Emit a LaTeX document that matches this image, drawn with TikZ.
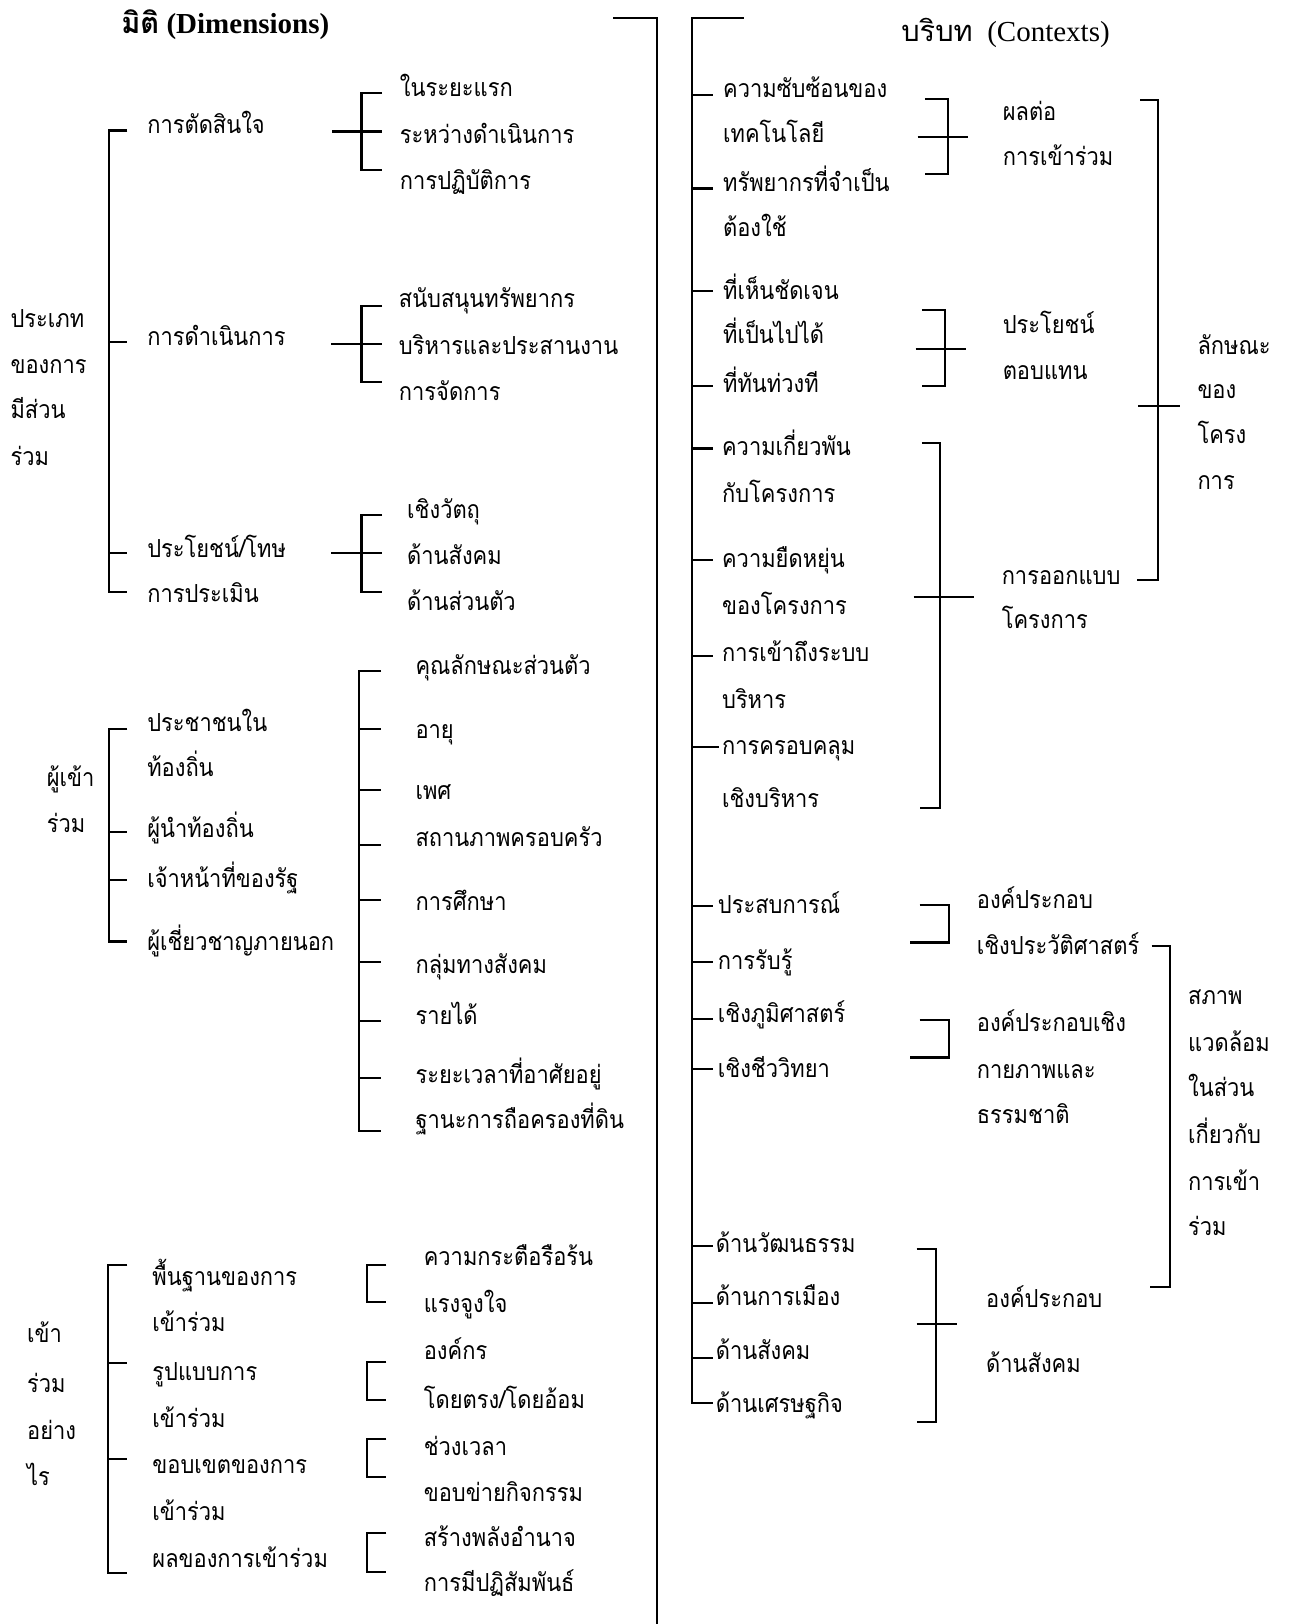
\documentclass[tikz,border=0pt]{standalone}
\usepackage{fontspec}
\setmainfont{Liberation Serif}
\newfontfamily\thaifont[Script=Thai,FakeStretch=0.88]{Loma}
\newfontfamily\thaititle[Script=Thai]{Loma}
\newcommand\mybrL[4]{\draw[ln] (#2,#3) -- (#1,#3) -- (#1,#4) -- (#2,#4);}
\newcommand\mybrR[5]{\draw[ln] (#2,#4) -- (#1,#4) -- (#1,#5) -- (#3,#5);}
\newcommand\myhl[3]{\draw[ln] (#1,#3) -- (#2,#3);}
\tikzset{
  lab/.style={font=\thaifont\fontsize{24}{28}\selectfont, inner sep=0pt, anchor=west, text height=12pt, text depth=0pt},
  ttl/.style={inner sep=0pt, anchor=west, font=\fontsize{28}{32}\selectfont, text height=14pt, text depth=0pt},
  ln/.style={line width=2pt}
}
\begin{document}
\begin{tikzpicture}[x=1pt,y=-1pt]
\useasboundingbox[fill=white] (0,0) rectangle (1245,1568);
% titles
\node[ttl] (tL) at (117,25) {{\thaititle\bfseries มิติ} \textbf{(Dimensions)}};
\node[ttl] (tR) at (870,33) {{\thaititle บริบท}\ \ (Contexts)};
% central lines
\draw[ln] (592,17) -- (634,17) -- (634,1568);
\draw[ln] (718,17) -- (668,17) -- (668,1355) -- (688,1355);

% ===== group 1 =====
\node[lab] (a1) at (10,310) {ประเภท};
\node[lab] (a2) at (10,355) {ของการ};
\node[lab] (a3) at (10,398) {มีส่วน};
\node[lab] (a4) at (10,443) {ร่วม};
\node[lab] (b1) at (142,123) {การตัดสินใจ};
\node[lab] (b2) at (142,328) {การดำเนินการ};
\node[lab] (b3) at (142,532) {ประโยชน์/โทษ};
\node[lab] (b4) at (142,576) {การประเมิน};
\mybrL{105}{123}{126}{572}
\myhl{105}{123}{330}
\myhl{105}{123}{534}
\node[lab] (c1) at (386,87) {ในระยะแรก};
\node[lab] (c2) at (386,133) {ระหว่างดำเนินการ};
\node[lab] (c3) at (386,177) {การปฏิบัติการ};
\mybrL{349}{369}{90}{164}
\myhl{321}{369}{127}
\node[lab] (c4) at (385,291) {สนับสนุนทรัพยากร};
\node[lab] (c5) at (385,336) {บริหารและประสานงาน};
\node[lab] (c6) at (385,381) {การจัดการ};
\mybrL{349}{369}{295}{369}
\myhl{320}{369}{332}
\node[lab] (c7) at (393,495) {เชิงวัตถุ};
\node[lab] (c8) at (393,539) {ด้านสังคม};
\node[lab] (c9) at (393,583) {ด้านส่วนตัว};
\mybrL{349}{369}{497}{572}
\myhl{320}{369}{534}

% ===== group 2 =====
\node[lab] (d1) at (45,753) {ผู้เข้า};
\node[lab] (d2) at (45,798) {ร่วม};
\node[lab] (e1) at (142,700) {ประชาชนใน};
\node[lab] (e2) at (142,744) {ท้องถิ่น};
\node[lab] (e3) at (142,803) {ผู้นำท้องถิ่น};
\node[lab] (e4) at (142,851) {เจ้าหน้าที่ของรัฐ};
\node[lab] (e5) at (142,912) {ผู้เชี่ยวชาญภายนอก};
\mybrL{105}{123}{704}{909}
\myhl{105}{123}{803}
\myhl{105}{123}{850}
\node[lab] (f1) at (401,645) {คุณลักษณะส่วนตัว};
\node[lab] (f2) at (401,707) {อายุ};
\node[lab] (f3) at (401,766) {เพศ};
\node[lab] (f4) at (401,811) {สถานภาพครอบครัว};
\node[lab] (f5) at (401,873) {การศึกษา};
\node[lab] (f6) at (401,934) {กลุ่มทางสังคม};
\node[lab] (f7) at (401,983) {รายได้};
\node[lab] (f8) at (401,1040) {ระยะเวลาที่อาศัยอยู่};
\node[lab] (f9) at (401,1084) {ฐานะการถือครองที่ดิน};
\mybrL{347}{368}{648}{1092}
\foreach \yy in {704,763,816,869,929,986,1041} {\myhl{347}{368}{\yy}}

% ===== group 3 =====
\node[lab] (g1) at (26,1290) {เข้า};
\node[lab] (g2) at (26,1338) {ร่วม};
\node[lab] (g3) at (26,1384) {อย่าง};
\node[lab] (g4) at (26,1428) {ไร};
\node[lab] (h1) at (147,1235) {พื้นฐานของการ};
\node[lab] (h2) at (147,1280) {เข้าร่วม};
\node[lab] (h3) at (147,1327) {รูปแบบการ};
\node[lab] (h4) at (147,1372) {เข้าร่วม};
\node[lab] (h5) at (147,1417) {ขอบเขตของการ};
\node[lab] (h6) at (147,1462) {เข้าร่วม};
\node[lab] (h7) at (147,1507) {ผลของการเข้าร่วม};
\mybrL{104}{123}{1221}{1519}
\myhl{104}{123}{1316}
\myhl{104}{123}{1409}
\node[lab] (i1) at (409,1216) {ความกระตือรือร้น};
\node[lab] (i2) at (409,1261) {แรงจูงใจ};
\node[lab] (i3) at (409,1307) {องค์กร};
\node[lab] (i4) at (409,1354) {โดยตรง/โดยอ้อม};
\node[lab] (i5) at (409,1399) {ช่วงเวลา};
\node[lab] (i6) at (409,1444) {ขอบข่ายกิจกรรม};
\node[lab] (i7) at (409,1487) {สร้างพลังอำนาจ};
\node[lab] (i8) at (409,1531) {การมีปฏิสัมพันธ์};
\mybrL{354}{373}{1221}{1257}
\mybrL{354}{373}{1315}{1352}
\mybrL{354}{373}{1389}{1426}
\mybrL{354}{373}{1480}{1518}

% ===== right column =====
\foreach \yy in {92,182,281,373,433,541,633,875,929,984,1032,1203,1258,1311} {\myhl{668}{688}{\yy}}
\myhl{668}{694}{721}
\node[lab] (p1) at (698,88) {ความซับซ้อนของ};
\node[lab] (p2) at (698,132) {เทคโนโลยี};
\node[lab] (p3) at (698,179) {ทรัพยากรที่จำเป็น};
\node[lab] (p4) at (698,222) {ต้องใช้};
\node[lab] (p5) at (698,283) {ที่เห็นชัดเจน};
\node[lab] (p6) at (698,326) {ที่เป็นไปได้};
\node[lab] (p7) at (698,373) {ที่ทันท่วงที};
\node[lab] (p8) at (697,434) {ความเกี่ยวพัน};
\node[lab] (p9) at (697,479) {กับโครงการ};
\node[lab] (p10) at (697,542) {ความยืดหยุ่น};
\node[lab] (p11) at (697,587) {ของโครงการ};
\node[lab] (p12) at (697,633) {การเข้าถึงระบบ};
\node[lab] (p13) at (697,678) {บริหาร};
\node[lab] (p14) at (697,722) {การครอบคลุม};
\node[lab] (p15) at (697,774) {เชิงบริหาร};
\node[lab] (q1) at (693,876) {ประสบการณ์};
\node[lab] (q2) at (693,930) {การรับรู้};
\node[lab] (q3) at (693,981) {เชิงภูมิศาสตร์};
\node[lab] (q4) at (693,1034) {เชิงชีววิทยา};
\node[lab] (q5) at (691,1203) {ด้านวัฒนธรรม};
\node[lab] (q6) at (691,1254) {ด้านการเมือง};
\node[lab] (q7) at (691,1307) {ด้านสังคม};
\node[lab] (q8) at (691,1358) {ด้านเศรษฐกิจ};

% brackets right
\mybrR{915}{893}{893}{96}{168}
\myhl{886}{935}{132}
\node[lab] (j1) at (968,110) {ผลต่อ};
\node[lab] (j2) at (968,154) {การเข้าร่วม};
\mybrR{912}{890}{890}{299}{373}
\myhl{884}{933}{337}
\node[lab] (j3) at (968,316) {ประโยชน์};
\node[lab] (j4) at (968,360) {ตอบแทน};
\mybrR{908}{890}{888}{428}{780}
\myhl{882}{940}{576}
\node[lab] (j5) at (967,558) {การออกแบบ};
\node[lab] (j6) at (967,601) {โครงการ};
\mybrR{1118}{1101}{1098}{97}{560}
\myhl{1099}{1139}{392}
\node[lab] (k1) at (1156,336) {ลักษณะ};
\node[lab] (k2) at (1156,379) {ของ};
\node[lab] (k3) at (1156,422) {โครง};
\node[lab] (k4) at (1156,467) {การ};
\mybrR{916}{888}{879}{874}{910}
\node[lab] (j7) at (943,871) {องค์ประกอบ};
\node[lab] (j8) at (943,916) {เชิงประวัติศาสตร์};
\mybrR{916}{888}{879}{985}{1021}
\node[lab] (j9) at (943,990) {องค์ประกอบเชิง};
\node[lab] (j10) at (943,1035) {กายภาพและ};
\node[lab] (j11) at (943,1079) {ธรรมชาติ};
\mybrR{1130}{1112}{1110}{913}{1243}
\node[lab] (m1) at (1147,964) {สภาพ};
\node[lab] (m2) at (1147,1009) {แวดล้อม};
\node[lab] (m3) at (1147,1053) {ในส่วน};
\node[lab] (m4) at (1147,1098) {เกี่ยวกับ};
\node[lab] (m5) at (1147,1143) {การเข้า};
\node[lab] (m6) at (1147,1187) {ร่วม};
\mybrR{904}{885}{885}{1206}{1373}
\myhl{885}{924}{1278}
\node[lab] (j12) at (952,1256) {องค์ประกอบ};
\node[lab] (j13) at (952,1319) {ด้านสังคม};
\end{tikzpicture}
\end{document}
